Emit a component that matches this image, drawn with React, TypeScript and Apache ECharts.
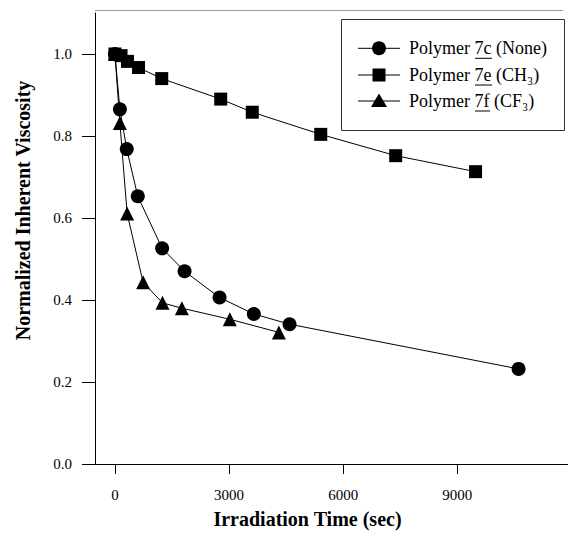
import React, { useEffect, useRef } from 'react';
import * as echarts from 'echarts';

// Tick values
const xTicks = [0, 3000, 6000, 9000];
const yTicks = [0, 0.2, 0.4, 0.6, 0.8, 1.0];

// Series names
const nameC = 'Polymer 7c (None)';
const nameE = 'Polymer 7e (CH\u2083)';
const nameF = 'Polymer 7f (CF\u2083)';

// Polymer 7c (None) – circles
const timeC = [0, 130, 310, 600, 1240, 1830, 2750, 3650, 4590, 10610];
const viscC = [1.0, 0.865, 0.768, 0.653, 0.526, 0.47, 0.406, 0.366, 0.341, 0.232];

// Polymer 7e (CH3) – squares
const timeE = [0, 160, 330, 620, 1230, 2780, 3610, 5410, 7380, 9480];
const viscE = [1.0, 0.996, 0.982, 0.967, 0.94, 0.89, 0.858, 0.804, 0.752, 0.713];

// Polymer 7f (CF3) – triangles
const timeF = [0, 130, 320, 740, 1250, 1760, 3020, 4310];
const viscF = [1.0, 0.832, 0.611, 0.443, 0.393, 0.38, 0.353, 0.321];

const FONT = 'Liberation Serif';

const zip = (xs: number[], ys: number[]) => xs.map((x, i) => [x, ys[i]]);

export default function App() {
  const ref = useRef<HTMLDivElement>(null);

  useEffect(() => {
    if (!ref.current) return;
    const chart = echarts.init(ref.current, undefined, { renderer: 'svg' });

    const mkSeries = (name: string, xs: number[], ys: number[], symbol: string, size: number) => ({
      name,
      type: 'line',
      data: zip(xs, ys),
      symbol,
      symbolSize: size,
      showAllSymbol: true,
      itemStyle: { color: '#000' },
      lineStyle: { color: '#000', width: 1 },
      emphasis: { disabled: true },
    });

    // Legend box (drawn as graphic so the serif font and underlines are kept)
    const LX = 341;
    const LY = 19;
    const LW = 223;
    const LH = 111;
    const rows = [48.3, 75, 101];
    const iconX1 = 358;
    const iconX2 = 400;
    const iconC = 379;
    const textX = 409;
    const names = [nameC, nameE, nameF];
    const ulEnds = [492, 492, 490];

    const legendEls: any[] = [
      {
        type: 'rect',
        shape: { x: LX + 0.5, y: LY + 0.5, width: LW, height: LH },
        style: { fill: '#fff', stroke: '#333', lineWidth: 1 },
        z: 100,
        silent: true,
      },
    ];
    rows.forEach((y, i) => {
      legendEls.push({
        type: 'line',
        shape: { x1: iconX1, y1: y, x2: iconX2, y2: y },
        style: { stroke: '#000', lineWidth: 1 },
        z: 101,
        silent: true,
      });
      if (i === 0) {
        legendEls.push({
          type: 'circle',
          shape: { cx: iconC, cy: y, r: 7 },
          style: { fill: '#000' },
          z: 102,
          silent: true,
        });
      } else if (i === 1) {
        legendEls.push({
          type: 'rect',
          shape: { x: iconC - 6.5, y: y - 6.5, width: 13, height: 13 },
          style: { fill: '#000' },
          z: 102,
          silent: true,
        });
      } else {
        legendEls.push({
          type: 'polygon',
          shape: { points: [[iconC, y - 7.5], [iconC + 8, y + 6], [iconC - 8, y + 6]] },
          style: { fill: '#000' },
          z: 102,
          silent: true,
        });
      }
      legendEls.push({
        type: 'text',
        x: textX,
        y,
        style: {
          text: names[i],
          fontFamily: FONT,
          fontSize: 18,
          fill: '#000',
          align: 'left',
          verticalAlign: 'middle',
        },
        z: 102,
        silent: true,
      });
      legendEls.push({
        type: 'line',
        shape: { x1: 475, y1: y + 10, x2: ulEnds[i], y2: y + 10 },
        style: { stroke: '#000', lineWidth: 1 },
        z: 102,
        silent: true,
      });
    });

    chart.setOption({
      animation: false,
      backgroundColor: '#fff',
      textStyle: { fontFamily: FONT },
      grid: { left: 83, right: 0, top: 13, bottom: 72, containLabel: false },
      xAxis: {
        type: 'value',
        min: -840,
        max: 11910,
        name: 'Irradiation Time (sec)',
        nameLocation: 'middle',
        nameGap: 45,
        nameTextStyle: {
          fontFamily: FONT,
          fontSize: 20,
          fontWeight: 'bold',
          color: '#000',
          padding: [0, 36, 0, 0],
        },
        axisLine: { show: true, onZero: false, lineStyle: { color: '#000', width: 1 } },
        axisTick: { show: true, customValues: xTicks, length: 10, lineStyle: { color: '#000' } },
        axisLabel: {
          customValues: xTicks,
          margin: 23,
          fontSize: 15,
          fontFamily: FONT,
          color: '#000',
          formatter: (v: number) => String(v),
        },
        splitLine: { show: false },
      },
      yAxis: {
        type: 'value',
        min: 0,
        max: 1.1,
        offset: -12,
        name: 'Normalized Inherent Viscosity',
        nameLocation: 'middle',
        nameGap: 62,
        nameRotate: 90,
        nameTextStyle: {
          fontFamily: FONT,
          fontSize: 20,
          fontWeight: 'bold',
          color: '#000',
          padding: [0, 0, 0, 56],
        },
        axisLine: { show: true, onZero: false, lineStyle: { color: '#000', width: 1 } },
        axisTick: { show: true, customValues: yTicks, length: 13, lineStyle: { color: '#000' } },
        axisLabel: {
          customValues: yTicks,
          margin: 23,
          fontSize: 15,
          fontFamily: FONT,
          color: '#000',
          formatter: (v: number) => v.toFixed(1),
        },
        splitLine: { show: false },
      },
      graphic: [
        {
          type: 'line',
          shape: { x1: 95, y1: 10.5, x2: 563, y2: 10.5 },
          style: { stroke: '#999', lineWidth: 1 },
          silent: true,
          z: 100,
        },
        ...legendEls,
      ],
      series: [
        mkSeries(nameF, timeF, viscF, 'triangle', 14),
        mkSeries(nameE, timeE, viscE, 'rect', 13),
        mkSeries(nameC, timeC, viscC, 'circle', 14),
      ],
    });

    return () => chart.dispose();
  }, []);

  return (
    <div
      ref={ref}
      style={{ position: 'absolute', left: 0, top: 0, width: 568, height: 536 }}
    />
  );
}
